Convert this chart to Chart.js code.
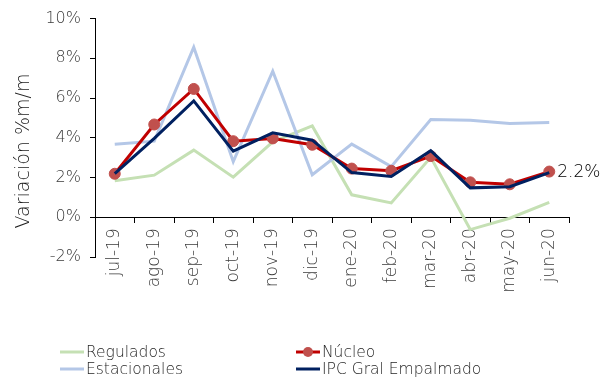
<!DOCTYPE html>
<html>
<head>
<meta charset="utf-8">
<script src="https://cdn.jsdelivr.net/npm/chart.js@4.4.1/dist/chart.umd.min.js"></script>
<style>
  html, body { margin: 0; padding: 0; background: #fff; }
  #wrap { width: 605px; height: 378px; }
</style>
</head>
<body>
<div id="wrap"><canvas id="chart"></canvas></div>
<script>
// months
const labels = ['jul-19', 'ago-19', 'sep-19', 'oct-19', 'nov-19', 'dic-19',
  'ene-20', 'feb-20', 'mar-20', 'abr-20', 'may-20', 'jun-20'];

// variacion %m/m por grupo
const regulados = [1.84, 2.12, 3.38, 2.02, 3.8, 4.6, 1.13, 0.72, 3.02, -0.62, -0.05, 0.75];
const estacionales = [3.68, 3.83, 8.56, 2.8, 7.35, 2.14, 3.68, 2.55, 4.92, 4.88, 4.72, 4.77];
const nucleo = [2.19, 4.67, 6.46, 3.83, 3.97, 3.65, 2.45, 2.34, 3.08, 1.76, 1.66, 2.3];
const ipcGral = [2.2, 3.97, 5.86, 3.33, 4.25, 3.88, 2.25, 2.05, 3.35, 1.48, 1.54, 2.25];

const yTicks = [-2, 0, 2, 4, 6, 8, 10];
const yTitle = 'Variación %m/m';
const lastLabel = '2.2%';

const FONT = "'DejaVu Sans', sans-serif";
Chart.defaults.font.family = FONT;
Chart.defaults.font.weight = 200;

// legend in two columns like the original, drawn by hand
const legendBoxes = [
  { ds: 3, x: 60, y: 352 },
  { ds: 1, x: 296, y: 352 },
  { ds: 2, x: 60, y: 369 },
  { ds: 0, x: 296, y: 369 }
];

const customBits = {
  id: 'customBits',
  afterDatasetsDraw(chart) {
    const ctx = chart.ctx;
    // value label at the end of Nucleo
    const meta = chart.getDatasetMeta(1);
    const pt = meta.data[meta.data.length - 1];
    ctx.save();
    ctx.font = '200 17px ' + FONT;
    ctx.fillStyle = '#000';
    ctx.textAlign = 'left';
    ctx.textBaseline = 'middle';
    ctx.fillText(lastLabel, pt.x + 8, pt.y + 1);
    ctx.restore();
  },
  afterDraw(chart) {
    const ctx = chart.ctx;
    ctx.save();
    // y axis title, sits a bit lower than the plot centre in the original
    ctx.save();
    ctx.translate(24, 151);
    ctx.rotate(-Math.PI / 2);
    ctx.font = '200 19px ' + FONT;
    ctx.fillStyle = '#1a1a1a';
    ctx.textAlign = 'center';
    ctx.textBaseline = 'middle';
    ctx.fillText(yTitle, 0, 0);
    ctx.restore();

    ctx.font = '200 15.5px ' + FONT;
    ctx.textBaseline = 'middle';
    legendBoxes.forEach(b => {
      const ds = chart.data.datasets[b.ds];
      ctx.strokeStyle = ds.borderColor;
      ctx.lineWidth = 3;
      ctx.beginPath();
      ctx.moveTo(b.x, b.y);
      ctx.lineTo(b.x + 24, b.y);
      ctx.stroke();
      if (ds.pointRadius > 0) {
        ctx.fillStyle = ds.pointBackgroundColor;
        ctx.beginPath();
        ctx.arc(b.x + 12, b.y, 5, 0, Math.PI * 2);
        ctx.fill();
      }
      ctx.fillStyle = '#262626';
      ctx.fillText(ds.label, b.x + 26, b.y + 1);
    });
    ctx.restore();
  }
};

new Chart(document.getElementById('chart'), {
  type: 'line',
  data: {
    labels: labels,
    datasets: [
      {
        label: 'IPC Gral Empalmado',
        data: ipcGral,
        borderColor: '#002060',
        borderWidth: 3,
        pointRadius: 0,
        tension: 0,
        order: 0
      },
      {
        label: 'Núcleo',
        data: nucleo,
        borderColor: '#c00000',
        borderWidth: 3,
        pointRadius: 5.5,
        pointBackgroundColor: '#c0504d',
        pointBorderColor: '#c0504d',
        pointBorderWidth: 1,
        tension: 0,
        order: 1
      },
      {
        label: 'Estacionales',
        data: estacionales,
        borderColor: '#b4c7e7',
        borderWidth: 3,
        pointRadius: 0,
        tension: 0,
        order: 2
      },
      {
        label: 'Regulados',
        data: regulados,
        borderColor: '#c5e0b4',
        borderWidth: 3,
        pointRadius: 0,
        tension: 0,
        order: 3
      }
    ]
  },
  options: {
    responsive: true,
    maintainAspectRatio: false,
    animation: false,
    layout: { padding: { left: 0, top: 16, right: 36, bottom: 121 } },
    plugins: {
      legend: { display: false },
      tooltip: { enabled: false }
    },
    scales: {
      x: {
        position: { y: 0 },
        offset: true,
        grid: {
          offset: true,
          drawOnChartArea: false,
          drawTicks: true,
          tickLength: 5,
          color: '#000'
        },
        border: { color: '#000', width: 1 },
        ticks: {
          autoSkip: false,
          minRotation: 90,
          maxRotation: 90,
          padding: 6,
          color: '#3a3a3a',
          font: { size: 17 }
        }
      },
      y: {
        min: -2,
        max: 10,
        afterBuildTicks(scale) {
          scale.ticks = yTicks.map(v => ({ value: v }));
        },
        afterFit(scale) {
          scale.width = 95;
        },
        grid: {
          drawOnChartArea: false,
          drawTicks: true,
          tickLength: 5,
          color: '#000'
        },
        border: { color: '#000', width: 1 },
        ticks: {
          padding: 9,
          color: '#3a3a3a',
          font: { size: 16 },
          callback: v => v + '%'
        }
      }
    }
  },
  plugins: [customBits]
});
</script>
</body>
</html>
